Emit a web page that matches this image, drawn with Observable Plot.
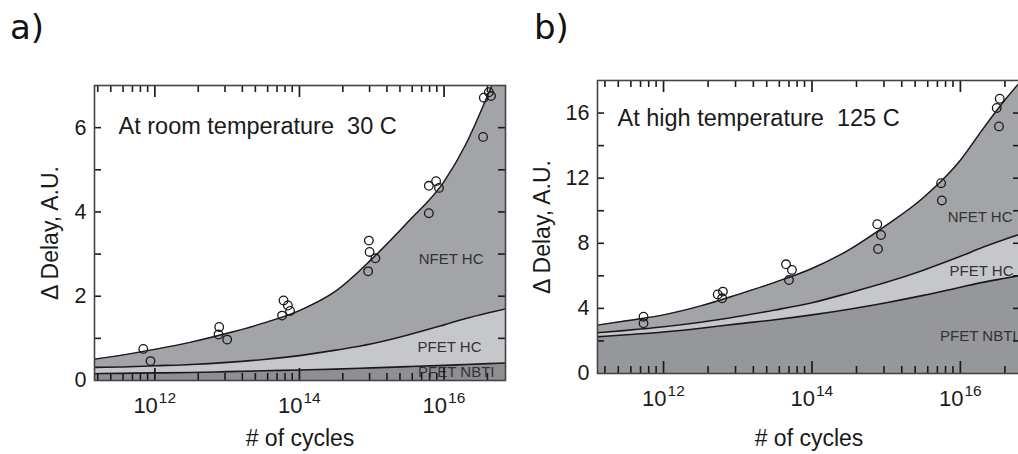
<!DOCTYPE html>
<html><head><meta charset="utf-8">
<script src="https://cdn.jsdelivr.net/npm/d3@7"></script>
<script src="https://cdn.jsdelivr.net/npm/@observablehq/plot@0.6"></script>
<style>
html,body{margin:0;padding:0;background:#fff;overflow:hidden}
#wrap{position:relative;width:1018px;height:454px;overflow:hidden;background:#fff}
.panel-label{position:absolute;font-family:"DejaVu Sans",sans-serif;font-size:34px;line-height:34px;color:#111}
.chart{position:absolute;top:60px}
</style></head><body>
<div id="wrap">
<div class="panel-label" style="left:10px;top:10px">a)</div>
<div class="panel-label" style="left:534px;top:10px">b)</div>
<div id="a" class="chart" style="left:0;width:515px"></div>
<div id="b" class="chart" style="left:520px;width:510px"></div>
</div>
<script>
// ---------- data (x values are exponents e of "# of cycles" = 10^e) ----------
const gridExp = [11.1, 11.5, 12, 12.5, 13, 13.5, 14, 14.5, 15, 15.5, 16, 16.3, 16.6, 16.9];

// Panel a: room temperature 30 C (cumulative curves)
const roomTotal  = [0.49, 0.59, 0.74, 0.91, 1.12, 1.36, 1.66, 2.12, 2.88, 3.76, 4.72, 5.6, 6.75, 8.0];
const roomPfetHC = [0.31, 0.32, 0.35, 0.38, 0.43, 0.50, 0.59, 0.72, 0.87, 1.08, 1.32, 1.47, 1.60, 1.72];
const roomNBTI   = [0.16, 0.17, 0.18, 0.19, 0.21, 0.23, 0.25, 0.27, 0.30, 0.33, 0.36, 0.38, 0.40, 0.42];
const roomPtExp  = [11.84, 11.94, 12.89, 12.88, 13.0, 13.78, 13.84, 13.76, 13.87, 14.96, 14.97, 15.05, 14.95, 15.79, 15.89, 15.93, 15.79, 16.55, 16.62, 16.65, 16.54];
const roomPtVal  = [0.75, 0.46, 1.27, 1.09, 0.97, 1.90, 1.78, 1.54, 1.65, 3.32, 3.05, 2.90, 2.59, 4.62, 4.73, 4.57, 3.97, 6.71, 6.84, 6.75, 5.78];

// Panel b: high temperature 125 C
const highTotal  = [2.97, 3.24, 3.6, 4.15, 4.85, 5.6, 6.45, 7.6, 9.1, 10.8, 13.1, 15.0, 16.8, 18.4];
const highPfetHC = [2.5, 2.65, 2.87, 3.15, 3.5, 3.9, 4.35, 4.95, 5.6, 6.35, 7.2, 7.75, 8.25, 8.7];
const highNBTI   = [2.25, 2.38, 2.55, 2.78, 3.05, 3.3, 3.6, 3.95, 4.35, 4.8, 5.3, 5.6, 5.85, 6.1];
const highPtExp  = [11.73, 11.73, 12.73, 12.80, 12.79, 13.65, 13.73, 13.69, 14.88, 14.93, 14.89, 15.74, 15.75, 16.49, 16.53, 16.52];
const highPtVal  = [3.49, 3.08, 4.86, 5.03, 4.62, 6.71, 6.36, 5.74, 9.17, 8.51, 7.65, 11.69, 10.63, 16.31, 16.88, 15.18];

// axes
const majorExp = [12, 14, 16];
const minorExp = [11.21, 11.39, 11.56, 11.69, 11.80, 11.90,
                  12.6, 12.97, 13.21, 13.39, 13.56, 13.69, 13.80, 13.90,
                  14.6, 14.97, 15.21, 15.39, 15.56, 15.69, 15.80, 15.90,
                  16.6];
const roomYTicks = [1, 2, 3, 4, 5, 6];
const roomYLabels = [0, 2, 4, 6];
const highYTicks = [2, 4, 6, 8, 10, 12, 14, 16];
const highYLabels = [0, 4, 8, 12, 16];
const seriesNames = ["NFET HC", "PFET HC", "PFET NBTI"];
const roomLabelY = [2.87, 0.78, 0.19];
const highLabelY = [9.62, 6.3, 2.3];

// ---------- drawing ----------
const FONT = "'Liberation Sans', Arial, Helvetica, sans-serif";
const C_NFET = "#a3a4a8", C_PFET = "#c6c7cb";

function panel(opts) {
  const {width, height, ml, mr, mt, mb, xDom, yDom, total, pfet, nbti, ptExp, ptVal,
         yTicks, yLabels, title, titleDx, titleDy, labelY, labelDx, cNBTI, ylabDx, xlabDy} = opts;
  const pw = width - ml - mr, ph = height - mt - mb;
  const rows = gridExp.map((e, i) => ({x: 10 ** e, total: total[i], pfet: pfet[i], nbti: nbti[i]}));
  const pts = ptExp.map((e, i) => ({x: 10 ** e, y: ptVal[i]}));
  const curve = "monotone-x";
  const tk = "#1a1a1a";
  return Plot.plot({
    width, height, marginLeft: ml, marginRight: mr, marginTop: mt, marginBottom: mb,
    style: {fontFamily: FONT, background: "transparent", overflow: "visible", maxWidth: "none"},
    x: {type: "log", domain: xDom.map(e => 10 ** e), axis: null},
    y: {domain: yDom, axis: null},
    marks: [
      Plot.areaY(rows, {x: "x", y1: 0, y2: "nbti", fill: cNBTI, curve, clip: true}),
      Plot.areaY(rows, {x: "x", y1: "nbti", y2: "pfet", fill: C_PFET, curve, clip: true}),
      Plot.areaY(rows, {x: "x", y1: "pfet", y2: "total", fill: C_NFET, curve, clip: true}),
      Plot.line(rows, {x: "x", y: "nbti", stroke: "#1a1a1a", strokeWidth: 1.6, curve, clip: true}),
      Plot.line(rows, {x: "x", y: "pfet", stroke: "#1a1a1a", strokeWidth: 1.6, curve, clip: true}),
      Plot.line(rows, {x: "x", y: "total", stroke: "#1a1a1a", strokeWidth: 1.4, curve, clip: true}),
      Plot.dot(pts, {x: "x", y: "y", r: 4.3, stroke: "#1a1a1a", strokeWidth: 1.3, fill: "none"}),
      ...seriesNames.map((s, i) => Plot.text([s], {y: () => labelY[i], frameAnchor: "right", textAnchor: "end",
        dx: labelDx[i], fontSize: 15, fill: "#333", lineAnchor: "middle"})),
      Plot.text([title], {frameAnchor: "top-left", textAnchor: "start", lineAnchor: "bottom",
        dx: titleDx, dy: titleDy, fontSize: 23.5, fill: "#1a1a1a"}),
      // inward ticks on all four sides
      Plot.tickX(minorExp, {x: e => 10 ** e, insetTop: ph - 7, stroke: tk, strokeWidth: 1.6}),
      Plot.tickX(minorExp, {x: e => 10 ** e, insetBottom: ph - 7, stroke: tk, strokeWidth: 1.6}),
      Plot.tickX(majorExp, {x: e => 10 ** e, insetTop: ph - 12, stroke: tk, strokeWidth: 1.7}),
      Plot.tickX(majorExp, {x: e => 10 ** e, insetBottom: ph - 12, stroke: tk, strokeWidth: 1.7}),
      Plot.tickY(yTicks, {y: d => d, insetRight: pw - 7, stroke: tk, strokeWidth: 1.6}),
      Plot.tickY(yTicks, {y: d => d, insetLeft: pw - 7, stroke: tk, strokeWidth: 1.6}),
      Plot.frame({stroke: "#444", strokeWidth: 1.6}),
      // tick labels
      Plot.text(yLabels, {y: d => d, text: d => String(d), frameAnchor: "left", textAnchor: "end",
        dx: -8, fontSize: 21.5, fill: "#1a1a1a", lineAnchor: "middle"}),
      Plot.text(majorExp, {x: e => 10 ** e, text: () => "10", frameAnchor: "bottom", textAnchor: "end",
        lineAnchor: "bottom", dx: 3, dy: 32, fontSize: 22, fill: "#1a1a1a"}),
      Plot.text(majorExp, {x: e => 10 ** e, text: e => String(e), frameAnchor: "bottom", textAnchor: "start",
        lineAnchor: "bottom", dx: 4, dy: 22, fontSize: 15.5, fill: "#1a1a1a"}),
      // axis titles
      Plot.text(["# of cycles"], {frameAnchor: "bottom", textAnchor: "middle", lineAnchor: "bottom",
        dy: xlabDy, fontSize: 23, fill: "#1a1a1a"}),
      Plot.text(["\u0394 Delay, A.U."], {frameAnchor: "left", textAnchor: "middle", lineAnchor: "middle",
        rotate: -90, dx: ylabDx, fontSize: 23, fill: "#1a1a1a"})
    ]
  });
}

document.getElementById("a").append(panel({
  width: 515, height: 394, ml: 94, mr: 10, mt: 25, mb: 74,
  xDom: [11.165, 16.85], yDom: [0, 7],
  total: roomTotal, pfet: roomPfetHC, nbti: roomNBTI, ptExp: roomPtExp, ptVal: roomPtVal,
  yTicks: roomYTicks, yLabels: roomYLabels,
  title: "At room temperature\u00a0 30 C", titleDx: 24, titleDy: 48,
  labelY: roomLabelY, labelDx: [-22, -24, -11], cNBTI: "#8e8f93", ylabDx: -44, xlabDy: 65
}));
document.getElementById("b").append(panel({
  width: 510, height: 394, ml: 77, mr: 10, mt: 20, mb: 81,
  xDom: [11.11, 16.81], yDom: [0, 18],
  total: highTotal, pfet: highPfetHC, nbti: highNBTI, ptExp: highPtExp, ptVal: highPtVal,
  yTicks: highYTicks, yLabels: highYLabels,
  title: "At high temperature\u00a0 125 C", titleDx: 20, titleDy: 45,
  labelY: highLabelY, labelDx: [-8, -7, -4], cNBTI: "#96979b", ylabDx: -55, xlabDy: 72
}));
</script>
</body></html>
